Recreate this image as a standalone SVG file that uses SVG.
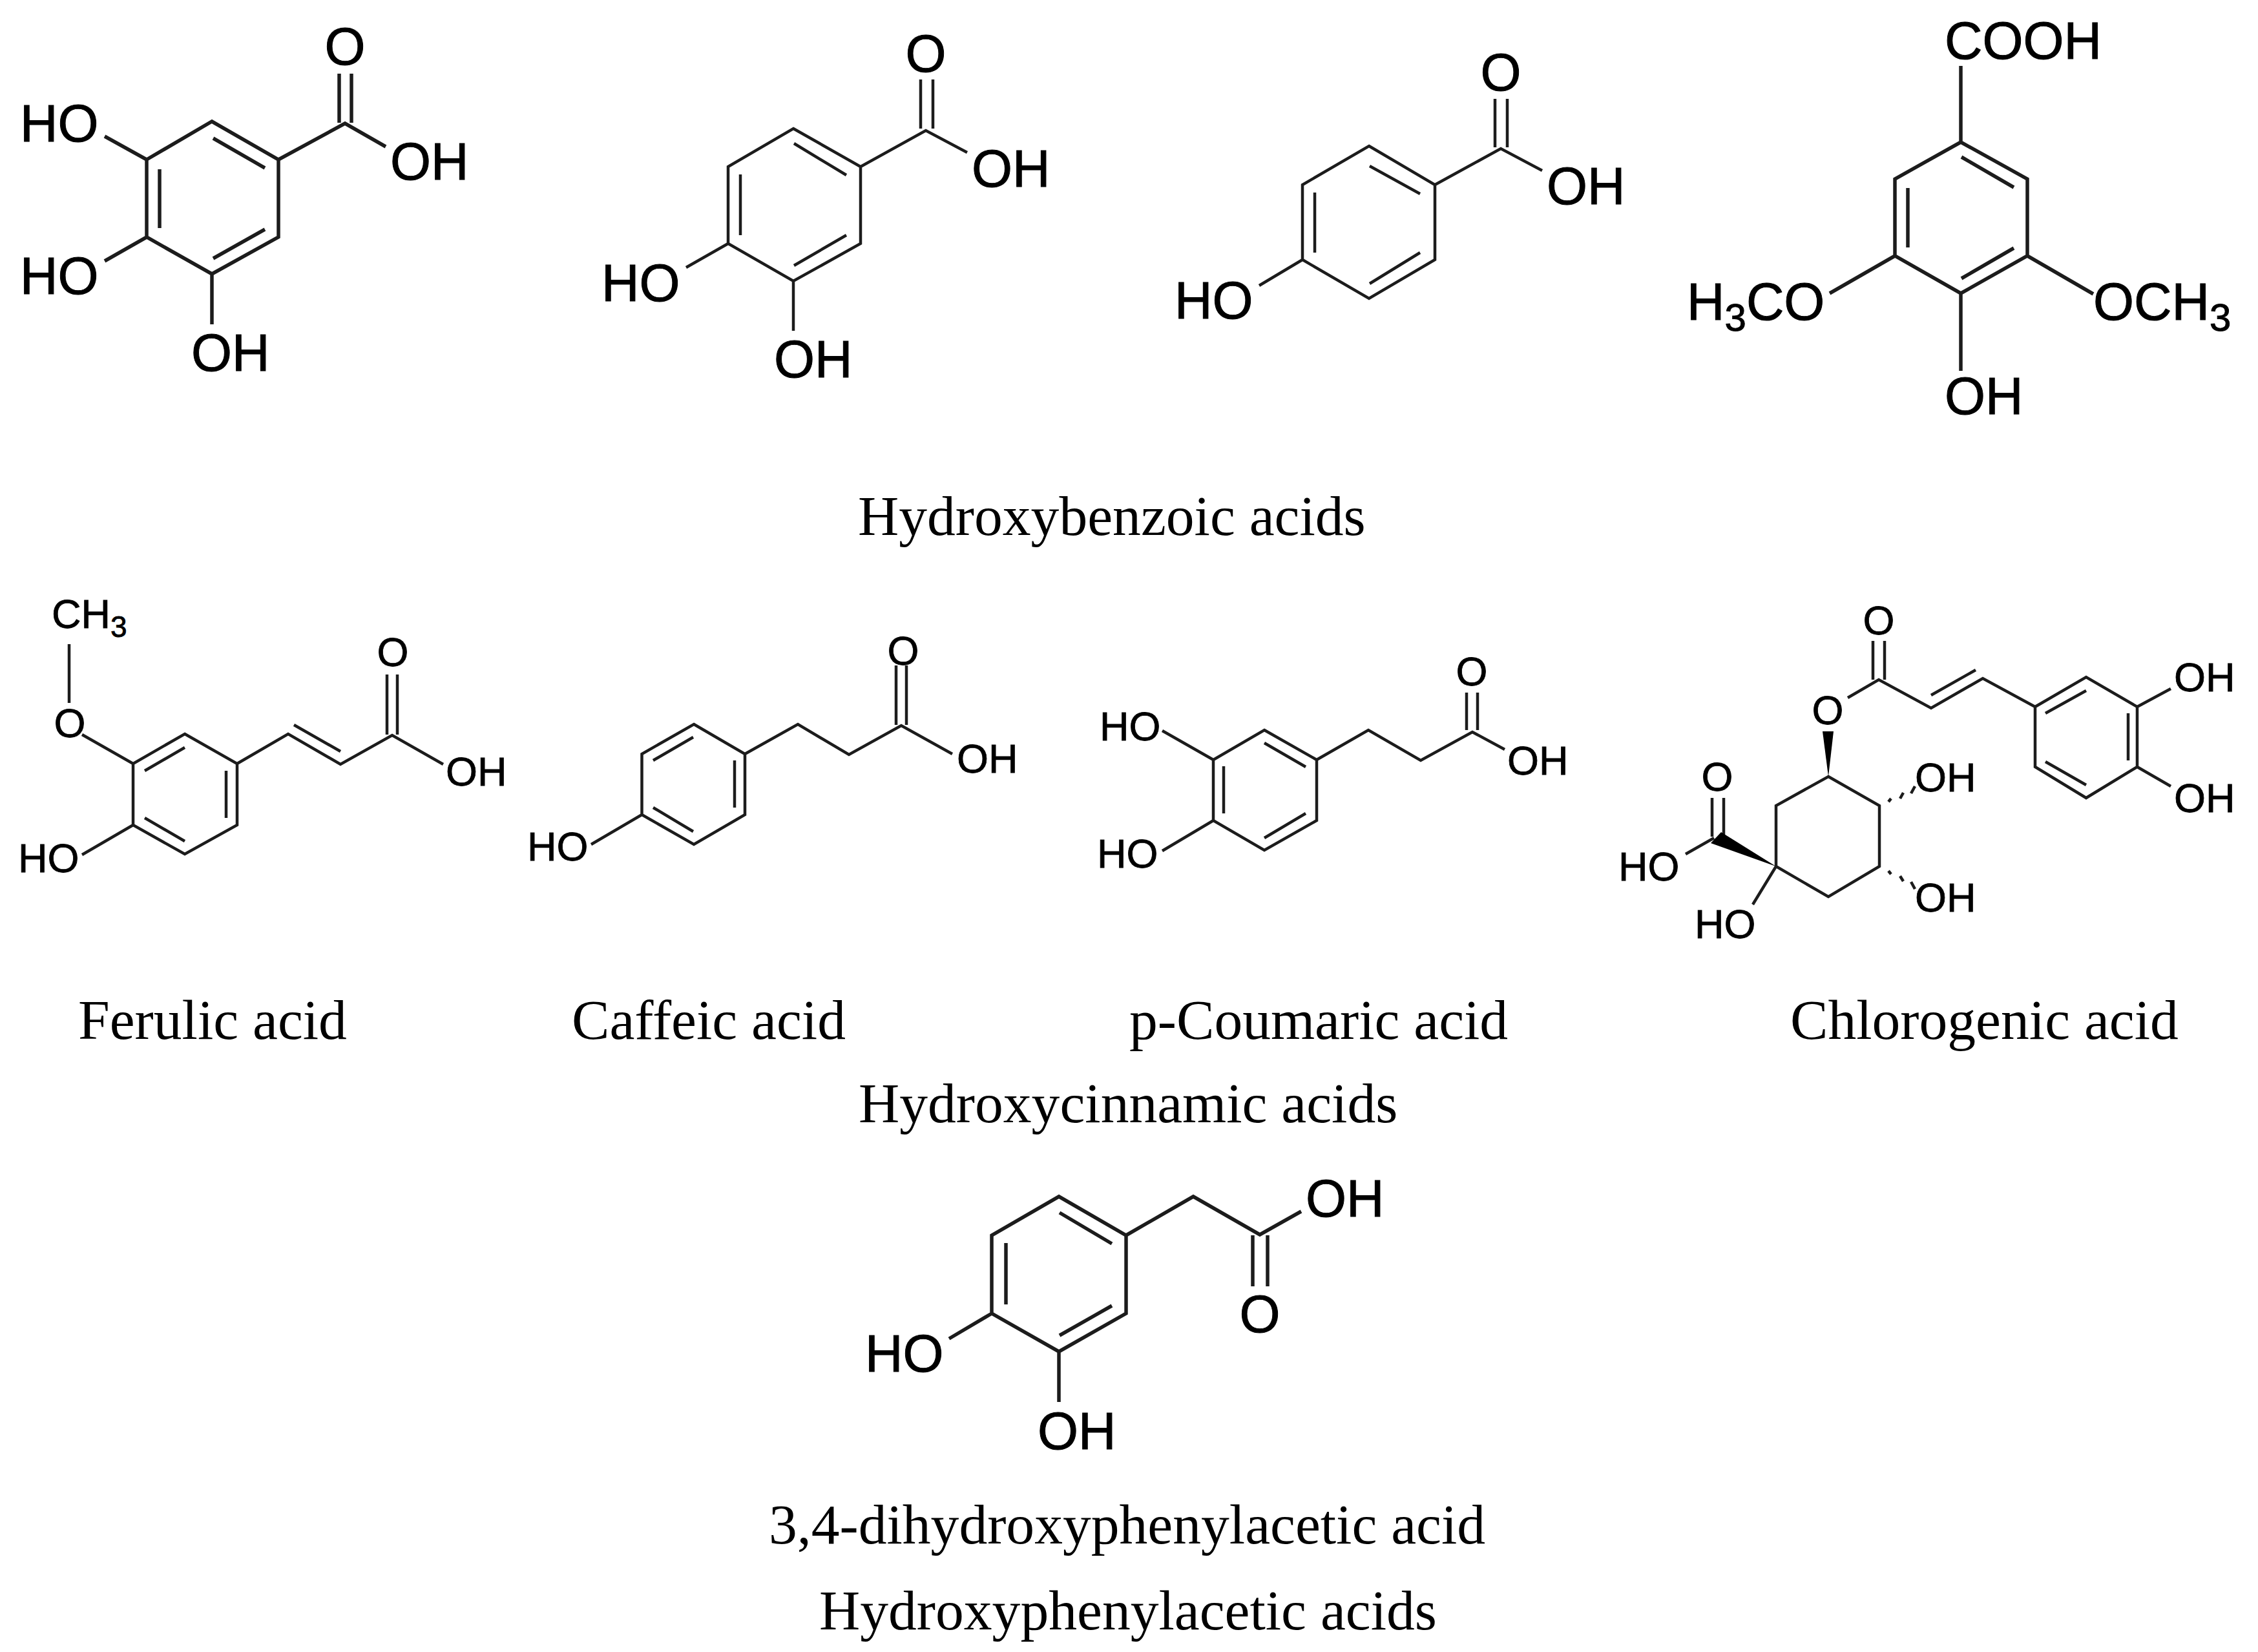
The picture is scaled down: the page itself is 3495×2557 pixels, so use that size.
<svg xmlns="http://www.w3.org/2000/svg" width="3495" height="2557" viewBox="0 0 3495 2557">
<style>
.b{fill:none;stroke:#1c1c1c;stroke-width:5.500;stroke-linejoin:miter;stroke-linecap:butt}
.n{stroke-width:4.500}
.l{font-family:"Liberation Sans",Arial,sans-serif;font-size:81px;fill:#000;stroke:#000;stroke-width:1}
.m{font-family:"Liberation Sans",Arial,sans-serif;font-size:63px;fill:#000;stroke:#000;stroke-width:.8}
.c{font-family:"Liberation Serif","Times New Roman",serif;font-size:87.600px;fill:#000}
.mid{text-anchor:middle}
</style>
<rect width="3495" height="2557" fill="#fff"/>
<g id="gallic-acid">
<path class="b" d="M328 188L431 247V367L328 424L227 367V247ZM431 247L534 191L597 227M525 114V190M544 114V190M162 211L227 247M162 404L227 367M328 424V502M247 262V353M330 214L410 260M330 400L410 355"/>
<text class="l mid" x="534" y="100">O</text><text class="l" x="604" y="278">OH</text><text class="l" x="31" y="219">HO</text><text class="l" x="31" y="455">HO</text><text class="l" x="296" y="574">OH</text>
</g>
<g id="protocatechuic-acid">
<path class="b n" d="M1228 199L1332 258V377L1228 435L1127 377V258ZM1332 258L1433 202L1497 236M1425 123V199M1444 123V199M1062 414L1127 377M1228 435V512M1146 270V364M1229 222L1310 271M1229 411L1310 364"/>
<text class="l mid" x="1433" y="111">O</text><text class="l" x="1504" y="289">OH</text><text class="l" x="931" y="466">HO</text><text class="l" x="1198" y="584">OH</text>
</g>
<g id="hydroxybenzoic-acid">
<path class="b n" d="M2119 226L2221 286V402L2119 462L2016 402V286ZM2221 286L2323 230L2387 264M2314 153V228M2333 153V228M1949 442L2016 402M2035 298V391M2120 257L2198 300M2120 439L2198 391"/>
<text class="l mid" x="2323" y="140">O</text><text class="l" x="2394" y="316">OH</text><text class="l" x="1818" y="493">HO</text>
</g>
<g id="syringic-acid">
<path class="b" d="M3035 220L3138 277V396L3035 454L2933 396V277ZM3035 102V220M2933 396L2832 454M3138 396L3240 455M3035 454V574M2953 291V383M3036 243L3117 290M3036 431L3117 384"/>
<text class="l" x="3010" y="91">COOH</text>
<text class="l" x="2611" y="495">H<tspan font-size="60" dy="17">3</tspan><tspan dy="-17">CO</tspan></text>
<text class="l" x="3240" y="495">OCH<tspan font-size="60" dy="17">3</tspan></text>
<text class="l" x="3010" y="641">OH</text>
</g>
<text id="label-hydroxybenzoic" class="c" x="1328" y="828">Hydroxybenzoic acids</text>
<g id="ferulic-acid">
<path class="b n" d="M286 1136L367 1182V1277L286 1322L206 1277V1182ZM107 997V1088M127 1137L206 1182M367 1182L446 1136L527 1183L607 1138L686 1183M455 1122L527 1163M599 1044V1137M615 1044V1137M206 1277L127 1323M350 1193V1266M224 1193L286 1157M224 1266L286 1302"/>
<text class="m" x="80" y="972">CH<tspan font-size="46" dy="14">3</tspan></text>
<text class="m mid" x="108" y="1141">O</text><text class="m mid" x="608" y="1031">O</text><text class="m" x="690" y="1216">OH</text><text class="m" x="28" y="1350">HO</text>
</g>
<g id="caffeic-acid">
<path class="b n" d="M1074 1121L1153 1167V1261L1074 1307L993.500 1261V1167ZM1153 1167L1235 1121L1314 1168L1395 1123L1474 1167M1387 1030V1122M1403 1030V1122M993.500 1261L915 1307M1137 1177V1250M1011 1177L1073 1141M1011 1250L1073 1287"/>
<text class="m mid" x="1398" y="1029">O</text><text class="m" x="1481" y="1196">OH</text><text class="m" x="816" y="1332">HO</text>
</g>
<g id="p-coumaric-acid">
<path class="b n" d="M1957 1130L2038 1176V1270L1957 1316L1878 1270V1176ZM2038 1176L2118 1130L2199 1177L2279 1133L2329 1160M2270 1072V1130M2287 1072V1130M1799 1131L1878 1176M1799 1317L1878 1270M1894 1186V1259M1957 1150L2021 1187M1957 1297L2021 1259"/>
<text class="m mid" x="2278" y="1061">O</text><text class="m" x="2333" y="1199">OH</text><text class="m" x="1702" y="1146">HO</text><text class="m" x="1698" y="1343">HO</text>
</g>
<g id="chlorogenic-acid">
<path class="b n" d="M2899 992V1052M2917 992V1052M2860 1080L2908 1052L2989 1096L3069 1050L3150 1094M2989 1076L3058 1037M3150 1094L3229 1048L3308 1094V1187L3229 1235L3150 1187ZM3166 1104L3229 1069M3294 1104V1177M3166 1179L3229 1215M3308 1094L3360 1066M3308 1187L3360 1217M2830 1202L2909 1247V1341L2830 1388L2749 1341V1247ZM2650 1235V1295M2668 1235V1295M2653 1297L2609 1322M2749 1341L2713 1400M2923 1241L2927 1236M2941 1236L2946 1227M2958 1228L2964 1217M2923 1348L2927 1353M2941 1356L2946 1364M2958 1365L2964 1376"/>
<polygon points="2830,1202 2821,1132 2838,1132" fill="#000"/>
<polygon points="2749,1341 2664,1288 2648,1305" fill="#000"/>
<text class="m mid" x="2908" y="982">O</text><text class="m mid" x="2829" y="1121">O</text><text class="m mid" x="2658" y="1224">O</text>
<text class="m" x="3365" y="1070">OH</text><text class="m" x="3365" y="1257">OH</text><text class="m" x="2964" y="1225">OH</text><text class="m" x="2964" y="1411">OH</text><text class="m" x="2505" y="1363">HO</text><text class="m" x="2623" y="1452">HO</text>
</g>
<text id="label-ferulic" class="c" x="121" y="1608">Ferulic acid</text>
<text id="label-caffeic" class="c" x="885" y="1608">Caffeic acid</text>
<text id="label-coumaric" class="c" x="1748" y="1608">p-Coumaric acid</text>
<text id="label-chlorogenic" class="c" x="2771" y="1608">Chlorogenic acid</text>
<text id="label-hydroxycinnamic" class="c" x="1329" y="1737">Hydroxycinnamic acids</text>
<g id="dihydroxyphenylacetic-acid">
<path class="b" d="M1639 1852L1743 1912V2033L1639 2092L1535 2033V1912ZM1743 1912L1847 1852L1950 1911L2014 1875M1939 1912V1991M1962 1912V1991M1535 2033L1469 2072M1639 2092V2170M1557 1924V2019M1640 1877L1721 1925M1640 2067L1721 2021"/>
<text class="l" x="2021" y="1883" font-size="83">OH</text><text class="l mid" x="1950" y="2062">O</text><text class="l" x="1339" y="2123">HO</text><text class="l" x="1606" y="2243">OH</text>
</g>
<text id="label-dihydroxyphenylacetic" class="c" x="1190" y="2389">3,4-dihydroxyphenylacetic acid</text>
<text id="label-hydroxyphenylacetic" class="c" x="1268" y="2522">Hydroxyphenylacetic acids</text>
</svg>
